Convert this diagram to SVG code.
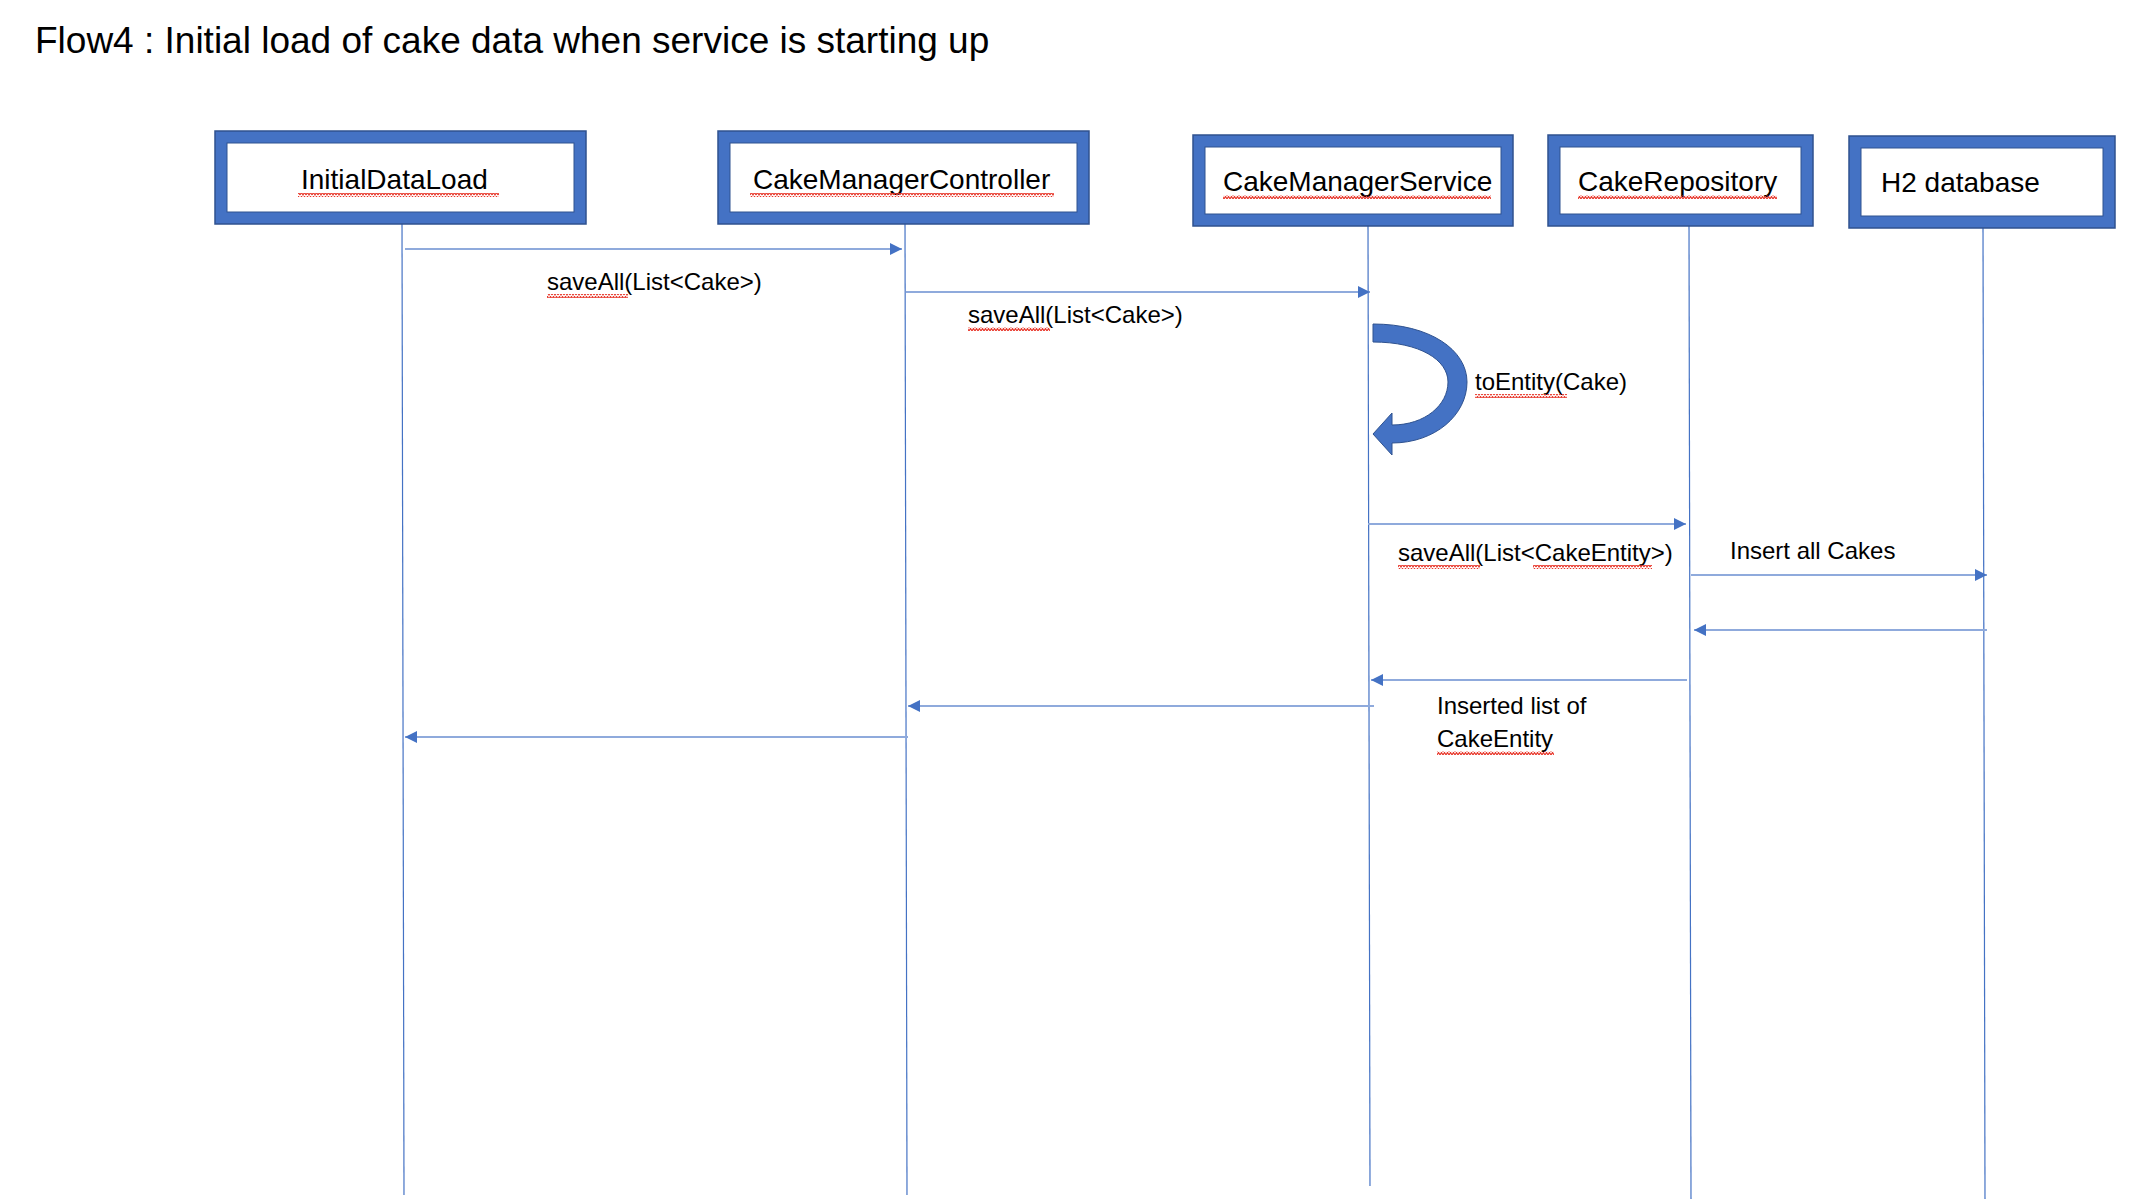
<svg xmlns="http://www.w3.org/2000/svg" width="2137" height="1201" viewBox="0 0 2137 1201">
<style>
.t{font-family:"Liberation Sans",Arial,sans-serif;fill:#000}
.title{font-size:37px}
.bl{font-size:28px}
.ml{font-size:24px}
.outer{fill:#4472C4;stroke:#2F528F;stroke-width:1.5}
.inner{fill:#fff;stroke:#2F528F;stroke-width:1}
.life{stroke:#4472C4;stroke-width:1.2;fill:none}
.msg{stroke:#8FAADC;stroke-width:2;fill:none}
</style>
<defs>
<marker id="ah" viewBox="0 0 12 12" refX="12" refY="6" markerWidth="12" markerHeight="12" markerUnits="userSpaceOnUse" orient="auto">
<path d="M0,0 L12,6 L0,12 Z" fill="#4472C4"/>
</marker>
<pattern id="wave" width="6" height="4" patternUnits="userSpaceOnUse">
<path d="M0,3 L1.5,0.5 L3,3 L4.5,0.5 L6,3" stroke="#E8382C" stroke-width="1.2" fill="none"/>
</pattern>
</defs>
<rect width="2137" height="1201" fill="#fff"/>
<text class="t title" x="35" y="53">Flow4 : Initial load of cake data when service is starting up</text>

<g id="lifelines">
<line class="life" x1="402" y1="224" x2="404" y2="1195"/>
<line class="life" x1="905" y1="224" x2="907" y2="1195"/>
<line class="life" x1="1368" y1="226" x2="1370" y2="1186"/>
<line class="life" x1="1689" y1="226" x2="1691" y2="1199"/>
<line class="life" x1="1983" y1="228" x2="1985" y2="1199"/>
</g>

<g id="node-initialdataload">
<rect class="outer" x="215" y="131" width="371" height="93"/>
<rect class="inner" x="227" y="143" width="347" height="69"/>
<text class="t bl" x="301" y="189">InitialDataLoad</text>
<rect x="298" y="193" width="201" height="4" fill="url(#wave)"/>
</g>
<g id="node-cakemanagercontroller">
<rect class="outer" x="718" y="131" width="371" height="93"/>
<rect class="inner" x="730" y="143" width="347" height="69"/>
<text class="t bl" x="753" y="189">CakeManagerController</text>
<rect x="750" y="193" width="304" height="4" fill="url(#wave)"/>
</g>
<g id="node-cakemanagerservice">
<rect class="outer" x="1193" y="135" width="320" height="91"/>
<rect class="inner" x="1205" y="147" width="296" height="67"/>
<text class="t bl" x="1223" y="191">CakeManagerService</text>
<rect x="1223" y="195" width="268" height="4" fill="url(#wave)"/>
</g>
<g id="node-cakerepository">
<rect class="outer" x="1548" y="135" width="265" height="91"/>
<rect class="inner" x="1560" y="147" width="241" height="67"/>
<text class="t bl" x="1578" y="191">CakeRepository</text>
<rect x="1578" y="195" width="199" height="4" fill="url(#wave)"/>
</g>
<g id="node-h2database">
<rect class="outer" x="1849" y="136" width="266" height="92"/>
<rect class="inner" x="1861" y="148" width="242" height="68"/>
<text class="t bl" x="1881" y="192">H2 database</text>
</g>

<g id="connectors">
<line class="msg" x1="405" y1="249" x2="902" y2="249" marker-end="url(#ah)"/>
<line class="msg" x1="906" y1="292" x2="1370" y2="292" marker-end="url(#ah)"/>
<path d="M1373,324 C1430,324 1467,350 1467,382 C1467,415 1435,443 1392,443 L1392,455 L1373,434 L1392,413 L1392,425 C1425,425 1448,405 1448,382 C1448,360 1420,342 1373,342 Z" fill="#4472C4" stroke="#2F528F" stroke-width="1"/>
<line class="msg" x1="1368" y1="524" x2="1686" y2="524" marker-end="url(#ah)"/>
<line class="msg" x1="1691" y1="575" x2="1987" y2="575" marker-end="url(#ah)"/>
<line class="msg" x1="1987" y1="630" x2="1694" y2="630" marker-end="url(#ah)"/>
<line class="msg" x1="1687" y1="680" x2="1371" y2="680" marker-end="url(#ah)"/>
<line class="msg" x1="1374" y1="706" x2="908" y2="706" marker-end="url(#ah)"/>
<line class="msg" x1="908" y1="737" x2="405" y2="737" marker-end="url(#ah)"/>
</g>

<g id="labels">
<text class="t ml" x="547" y="290">saveAll(List&lt;Cake&gt;)</text>
<rect x="547" y="294" width="81" height="4" fill="url(#wave)"/>
<text class="t ml" x="968" y="323">saveAll(List&lt;Cake&gt;)</text>
<rect x="968" y="327" width="82" height="4" fill="url(#wave)"/>
<text class="t ml" x="1475" y="390">toEntity(Cake)</text>
<rect x="1475" y="394" width="92" height="4" fill="url(#wave)"/>
<text class="t ml" x="1398" y="561">saveAll(List&lt;CakeEntity&gt;)</text>
<rect x="1398" y="565" width="82" height="4" fill="url(#wave)"/>
<rect x="1533" y="565" width="119" height="4" fill="url(#wave)"/>
<text class="t ml" x="1730" y="559">Insert all Cakes</text>
<text class="t ml" x="1437" y="714">Inserted list of</text>
<text class="t ml" x="1437" y="747">CakeEntity</text>
<rect x="1437" y="751" width="117" height="4" fill="url(#wave)"/>
</g>
</svg>
